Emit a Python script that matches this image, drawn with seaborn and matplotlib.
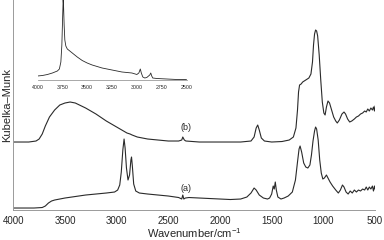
import numpy as np
import pandas as pd
import matplotlib
matplotlib.use('Agg')
import matplotlib.pyplot as plt
import seaborn as sb

sb.set_style('white')
plt.rcParams['font.family'] = ['Liberation Sans', 'DejaVu Sans']
plt.rcParams['mathtext.default'] = 'regular'

# spectrum (a)
wn_a = [4000, 3800, 3720, 3690, 3660, 3630, 3600, 3550, 3500, 3400, 3300, 3200, 3100,
        3020, 2990, 2970, 2955, 2940, 2928, 2918, 2905, 2890, 2875, 2862, 2856, 2848,
        2835, 2815, 2780, 2700, 2600, 2500, 2400, 2370, 2360, 2350, 2335, 2300, 2200,
        2100, 2000, 1900, 1800, 1740, 1700, 1670, 1650, 1620, 1580, 1540, 1520, 1500,
        1485, 1475, 1465, 1455, 1440, 1410, 1380, 1340, 1300, 1270, 1250, 1235, 1225,
        1210, 1190, 1170, 1150, 1130, 1115, 1100, 1085, 1075, 1065, 1050, 1035, 1020,
        1005, 990, 970, 955, 935, 910, 880, 855, 835, 815, 800, 780, 760, 740, 720,
        700, 680, 660, 640, 620, 600, 585, 570, 555, 540, 525, 515, 505, 500]
km_a = [1.5, 1.5, 2, 3.5, 6.5, 8.5, 9.5, 10.5, 11.5, 13, 14.5, 15.5, 16.5,
        17.5, 19.5, 24.5, 37.5, 59.5, 70.5, 61.5, 41.5, 29.5, 34.5, 49.5, 52.5, 43.5,
        25.5, 18.5, 16.5, 15.5, 14.5, 13.5, 12, 10.5, 14.5, 10.5, 11.5, 12, 11.5,
        11, 10.5, 10, 10.5, 12.5, 16.5, 21.5, 19.5, 14.5, 11.5, 10.5, 11.5, 15.5,
        23.5, 20.5, 27.5, 19.5, 12.5, 10.5, 11.5, 13.5, 17.5, 29.5, 47.5, 60.5, 63.5,
        57.5, 46.5, 42.5, 41.5, 44.5, 54.5, 68.5, 78.5, 82.5, 80.5, 69.5, 49.5, 36.5,
        30.5, 31.5, 34.5, 31.5, 27.5, 23.5, 19.5, 16.5, 19.5, 24.5, 22.5, 17.5, 15.5, 18.5, 16.5,
        19.5, 17.5, 19.5, 18.5, 20.5, 19.5, 22.5, 19.5, 22.5, 20.5, 23.5, 18.5, 23.5, 20.5]

# spectrum (b)
wn_b = [4000, 3850, 3780, 3750, 3720, 3690, 3650, 3600, 3550, 3500, 3450, 3400, 3300,
        3200, 3100, 3000, 2950, 2900, 2870, 2850, 2800, 2700, 2600, 2500, 2400, 2370,
        2360, 2345, 2330, 2200, 2000, 1800, 1700, 1670, 1650, 1635, 1620, 1600, 1570,
        1500, 1400, 1330, 1290, 1265, 1250, 1240, 1230, 1215, 1200, 1170, 1140, 1120,
        1105, 1095, 1085, 1075, 1065, 1055, 1040, 1025, 1010, 995, 983, 970, 955, 940,
        920, 900, 880, 865, 845, 820, 800, 785, 765, 745, 725, 700, 680, 660, 640, 620,
        600, 585, 570, 555, 540, 525, 515, 505, 500]
km_b = [67.5, 67.5, 68.5, 70.5, 75.5, 83.5, 92.5, 99.5, 104.5, 106.5, 107.5, 106.5, 101.5,
        95.5, 88.5, 82.5, 79.5, 76.5, 75.5, 74.5, 72.5, 70.5, 69.5, 68.5, 68.5, 69.5,
        72.5, 69.5, 68.5, 67.5, 67.5, 67.5, 68.5, 72.5, 81.5, 84.5, 79.5, 71.5, 68.5,
        67.5, 68, 69.5, 72.5, 81.5, 99.5, 117.5, 124.5, 125.5, 127.5, 129.5, 131.5, 135.5,
        147.5, 164.5, 175.5, 179.5, 178.5, 173.5, 154.5, 129.5, 107.5, 96.5, 94.5, 102.5, 108.5, 106.5,
        99.5, 92.5, 88.5, 86.5, 89.5, 95.5, 97.5, 95.5, 90.5, 87.5, 88.5, 90.5, 92.5, 93.5, 95.5, 96.5,
        98.5, 97.5, 100.5, 98.5, 101.5, 99.5, 102.5, 98.5, 103.5]

# inset spectrum
wn_in = [4000, 3950, 3900, 3850, 3800, 3780, 3765, 3755, 3748, 3742, 3738, 3732, 3725,
         3715, 3700, 3650, 3600, 3550, 3500, 3450, 3400, 3350, 3300, 3250, 3200, 3150,
         3100, 3050, 3000, 2980, 2965, 2955, 2940, 2920, 2900, 2870, 2860, 2850, 2840,
         2800, 2700, 2600, 2500]
km_in = [4, 4.5, 5.5, 7, 9, 11, 18, 35, 60, 80, 75, 55, 40,
         34, 31, 27, 23, 19.5, 17, 15, 13.5, 12, 11, 10, 9, 8,
         7.5, 7, 5.5, 7, 11, 7, 3, 2, 2.5, 5, 7, 4, 2,
         1.5, 1, 0.5, 0.5]

main_ticks = [4000, 3500, 3000, 2500, 2000, 1500, 1000, 500]
inset_ticks = [4000, 3750, 3500, 3250, 3000, 2750, 2500]

line_col = '#2a2a2a'
spine_col = '#9a9a9a'

fig = plt.figure(figsize=(3.84, 2.4), dpi=100)
ax = fig.add_axes([0.0346, 0.127, 0.942, 0.873])

sb.lineplot(x=wn_a, y=km_a, ax=ax, color=line_col, linewidth=0.8, estimator=None)
sb.lineplot(x=wn_b, y=km_b, ax=ax, color=line_col, linewidth=0.8, estimator=None)

ax.set_xlim(4000, 500)
ax.set_ylim(0, 209.5)
ax.set_xticks(main_ticks)
ax.set_xticklabels([str(t) for t in main_ticks])
ax.set_yticks([])
ax.tick_params(axis='x', direction='in', length=2.5, width=0.6, color=spine_col,
               labelsize=7, pad=4.5)
for s in ['top', 'right']:
    ax.spines[s].set_visible(False)
for s in ['left', 'bottom']:
    ax.spines[s].set_color(spine_col)
    ax.spines[s].set_linewidth(0.7)
ax.set_xlabel('Wavenumber/cm$^{-1}$', fontsize=8, labelpad=0)
ax.set_ylabel('Kubelka\u2013Munk', fontsize=8, labelpad=0.5)

ax.text(2330, 82.5, '(b)', fontsize=6.5, ha='center', va='center', color=line_col)
ax.text(2330, 21.5, '(a)', fontsize=6.5, ha='center', va='center', color=line_col)

# inset
ins = fig.add_axes([0.0977, 0.6667, 0.388, 0.3333])
ins.patch.set_alpha(0)
sb.lineplot(x=wn_in, y=km_in, ax=ins, color=line_col, linewidth=0.6, estimator=None)
ins.set_xlim(4000, 2500)
ins.set_ylim(0, 80)
ins.set_xticks(inset_ticks)
ins.set_xticklabels([str(t) for t in inset_ticks])
ins.set_yticks([])
ins.tick_params(axis='x', direction='in', length=1.5, width=0.5, color=spine_col,
                labelsize=3.8, pad=3.5)
for s in ['top', 'right', 'left']:
    ins.spines[s].set_visible(False)
ins.spines['bottom'].set_color(spine_col)
ins.spines['bottom'].set_linewidth(0.6)

fig.savefig('out.png', dpi=100)
